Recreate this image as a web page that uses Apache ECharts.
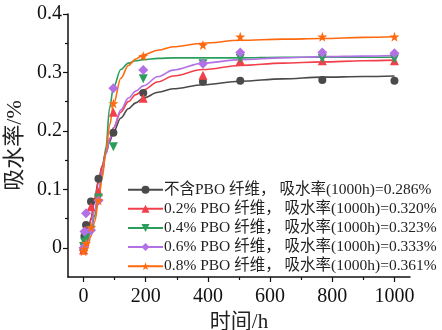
<!DOCTYPE html>
<html>
<head>
<meta charset="utf-8">
<script src="https://cdn.jsdelivr.net/npm/echarts@6/dist/echarts.min.js"></script>
<style>
  html, body { margin: 0; padding: 0; background: #fff; }
  #chart { width: 442px; height: 330px; }
</style>
</head>
<body>
<div id="chart"></div>
<script>
// Measured water uptake (%) versus immersion time (h)
const timePts = [0, 3, 8, 24, 48, 96, 192, 384, 504, 768, 1000];
const uptake0   = [-0.003, 0.020, 0.039, 0.079, 0.118, 0.197, 0.265, 0.284, 0.286, 0.287, 0.286];
const uptake02  = [-0.004, 0.012, 0.030, 0.070, 0.096, 0.232, 0.256, 0.295, 0.320, 0.320, 0.320];
const uptake04  = [0.002, 0.010, 0.018, 0.030, 0.085, 0.173, 0.289, 0.315, 0.324, 0.324, 0.323];
const uptake06  = [0.000, 0.028, 0.059, 0.030, 0.081, 0.273, 0.304, 0.315, 0.334, 0.334, 0.333];
const uptake08  = [-0.006, -0.002, 0.008, 0.035, 0.081, 0.247, 0.328, 0.347, 0.361, 0.361, 0.361];

// Fitted uptake curves
const fitTimes = [0, 12, 24, 36, 48, 60, 72, 84, 96, 120, 144, 168, 192, 240, 288, 384, 504, 640, 768, 900, 1000];
const fit0  = [-0.003, 0.020, 0.050, 0.085, 0.115, 0.140, 0.162, 0.182, 0.198, 0.222, 0.238, 0.248, 0.256, 0.266, 0.272, 0.279, 0.285, 0.289, 0.292, 0.293, 0.294];
const fit02 = [-0.003, 0.018, 0.048, 0.082, 0.112, 0.140, 0.165, 0.187, 0.205, 0.232, 0.250, 0.262, 0.270, 0.284, 0.294, 0.305, 0.312, 0.316, 0.318, 0.320, 0.321];
const fit04 = [0.000, 0.010, 0.030, 0.055, 0.085, 0.125, 0.172, 0.240, 0.274, 0.305, 0.316, 0.320, 0.322, 0.324, 0.325, 0.325, 0.325, 0.326, 0.326, 0.326, 0.326];
const fit06 = [-0.002, 0.012, 0.035, 0.065, 0.098, 0.130, 0.160, 0.185, 0.205, 0.236, 0.256, 0.268, 0.277, 0.293, 0.304, 0.316, 0.322, 0.325, 0.327, 0.328, 0.329];
const fit08 = [-0.006, 0.000, 0.020, 0.045, 0.080, 0.120, 0.165, 0.210, 0.245, 0.290, 0.312, 0.323, 0.330, 0.338, 0.344, 0.350, 0.355, 0.357, 0.358, 0.360, 0.361];

const seriesNames = [
  '不含PBO 纤维， 吸水率(1000h)=0.286%',
  '0.2% PBO 纤维， 吸水率(1000h)=0.320%',
  '0.4% PBO 纤维， 吸水率(1000h)=0.323%',
  '0.6% PBO 纤维， 吸水率(1000h)=0.333%',
  '0.8% PBO 纤维， 吸水率(1000h)=0.361%'
];

const xMajorTicks = [0, 200, 400, 600, 800, 1000];
const xMinorTicks = [100, 300, 500, 700, 900];
const yMajorTicks = [0, 0.1, 0.2, 0.3, 0.4];
const yMinorTicks = [0.05, 0.15, 0.25, 0.35];

const colors = ['#4a4a4a', '#f2404a', '#2c9e5c', '#b370e4', '#ff6a10'];
const starPath = 'path://M50,0 L61.8,35.3 L98.1,35.3 L68.8,57.1 L79.4,92.7 L50,71 L20.6,92.7 L31.2,57.1 L1.9,35.3 L38.2,35.3 Z';
const symbols = ['circle', 'triangle', 'triangle', 'diamond', starPath];
const rotations = [0, 0, 180, 0, 0];
const sizes = [8, 9, 9, 10, 10];

const pointSets = [uptake0, uptake02, uptake04, uptake06, uptake08];
const fitSets = [fit0, fit02, fit04, fit06, fit08];

const serif = "'Liberation Serif', 'Times New Roman', 'Noto Sans CJK SC', serif";
const zip = (xs, ys) => xs.map((x, i) => [x, ys[i]]);

const series = [];
fitSets.forEach((f, i) => {
  series.push({
    name: seriesNames[i],
    type: 'line',
    xAxisIndex: 0, yAxisIndex: 0,
    data: zip(fitTimes, f),
    smooth: 0.35,
    smoothMonotone: 'x',
    showSymbol: false,
    symbol: symbols[i],
    symbolRotate: rotations[i],
    lineStyle: { color: colors[i], width: 1.6 },
    itemStyle: { color: colors[i] },
    silent: true,
    z: 2
  });
});
pointSets.forEach((p, i) => {
  series.push({
    name: seriesNames[i],
    type: 'scatter',
    xAxisIndex: 0, yAxisIndex: 0,
    data: zip(timePts, p),
    symbol: symbols[i],
    symbolRotate: rotations[i],
    symbolSize: sizes[i],
    itemStyle: { color: colors[i], opacity: 1 },
    z: 3
  });
});

const chart = echarts.init(document.getElementById('chart'), null, { renderer: 'canvas' });
chart.setOption({
  animation: false,
  backgroundColor: '#fff',
  grid: { left: 68, right: 32, top: 14, bottom: 53, containLabel: false, outerBoundsMode: 'none' },
  legend: {
    orient: 'vertical',
    left: 127,
    top: 182,
    padding: 0,
    itemWidth: 35,
    itemHeight: 10,
    itemGap: 3.6,
    data: seriesNames,
    textStyle: { fontFamily: serif, fontSize: 15.5, color: '#222', padding: [0, 0, 0, -4] }
  },
  xAxis: [{
    type: 'value', min: -50, max: 1050,
    name: '时间/h', nameLocation: 'middle', nameGap: 33,
    nameTextStyle: { fontFamily: serif, fontSize: 21, color: '#222' },
    axisLine: { onZero: false, lineStyle: { color: '#111', width: 1.5 } },
    axisTick: { show: true, length: 5, customValues: xMajorTicks, lineStyle: { color: '#111', width: 1.2 } },
    axisLabel: { customValues: xMajorTicks, fontFamily: serif, fontSize: 20, color: '#111', margin: 10, formatter: v => String(v) },
    splitLine: { show: false }
  }, {
    type: 'value', min: -50, max: 1050, position: 'bottom',
    axisLine: { show: false, onZero: false },
    axisTick: { show: true, length: 3, customValues: xMinorTicks, lineStyle: { color: '#111', width: 1.2 } },
    axisLabel: { show: false },
    splitLine: { show: false }
  }],
  yAxis: [{
    type: 'value', min: -0.05, max: 0.4,
    name: '吸水率/%', nameLocation: 'middle', nameGap: 35, nameRotate: 90,
    nameTextStyle: { fontFamily: serif, fontSize: 22, color: '#222' },
    axisLine: { onZero: false, lineStyle: { color: '#111', width: 1.5 } },
    axisTick: { show: true, length: 5, customValues: yMajorTicks, lineStyle: { color: '#111', width: 1.2 } },
    axisLabel: {
      customValues: yMajorTicks, fontFamily: serif, fontSize: 20, color: '#111', margin: 6,
      formatter: v => (Math.abs(v) < 1e-9 ? '0' : v.toFixed(1))
    },
    splitLine: { show: false }
  }, {
    type: 'value', min: -0.05, max: 0.4, position: 'left',
    axisLine: { show: false, onZero: false },
    axisTick: { show: true, length: 3, customValues: yMinorTicks, lineStyle: { color: '#111', width: 1.2 } },
    axisLabel: { show: false },
    splitLine: { show: false }
  }],
  series: series
});
</script>
</body>
</html>
